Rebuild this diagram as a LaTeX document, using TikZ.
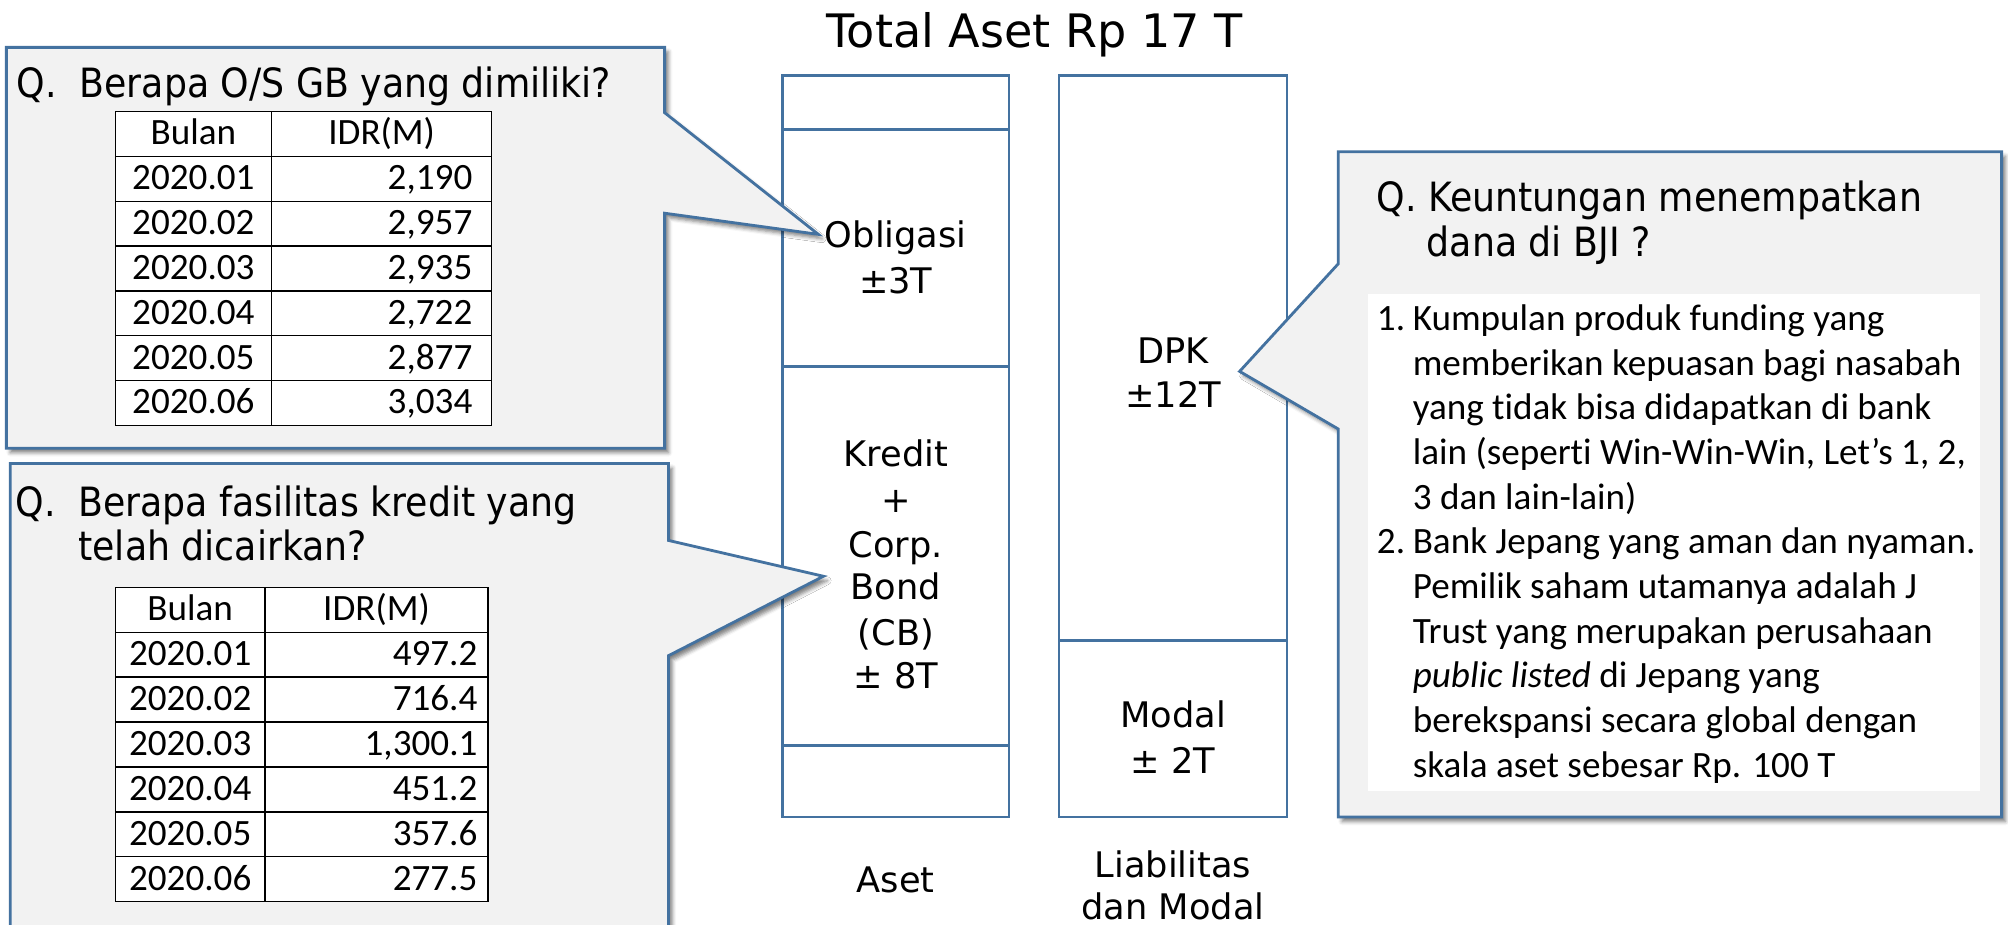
\documentclass[tikz,border=0pt]{standalone}
\usepackage{fontspec}
\setmainfont{DejaVu Sans}
\newfontfamily\calfont[Ligatures=NoCommon]{Carlito}
\newfontfamily\condfont{DejaVu Sans Condensed}
\usetikzlibrary{shadows.blur}
\definecolor{bord}{RGB}{68,114,160}
\definecolor{cfill}{RGB}{242,242,242}
\begin{document}
\begin{tikzpicture}[x=1pt,y=-1pt,
  col/.style={draw=bord,line width=2pt,fill=white},
  callout/.style={draw=bord,line width=2.2pt,fill=cfill,line join=miter,
    blur shadow={shadow xshift=3pt,shadow yshift=-3.5pt,shadow blur radius=3pt,shadow opacity=50}},
  ctext/.style={font=\fontsize{27.5}{34}\selectfont,inner sep=0pt,anchor=base},
  qtext/.style={font=\condfont\fontsize{31.5}{43}\selectfont,inner sep=0pt,anchor=base west},
  tline/.style={draw=black,line width=1.1pt},
  ttext/.style={font=\calfont\fontsize{29}{34}\selectfont,inner sep=0pt,anchor=base},
]
\clip (0,0) rectangle (1568,722);
\useasboundingbox (0,0) rectangle (1568,722);

% ---- title
\node[ctext,font=\fontsize{36}{40}\selectfont] (title) at (808,37) {Total Aset Rp 17 T};

% ---- Aset column
\draw[col] (611,59) rectangle (788,101);
\draw[col] (611,101) rectangle (788,286);
\draw[col] (611,286) rectangle (788,582);
\draw[col] (611,582) rectangle (788,638);
% ---- Liabilitas column
\draw[col] (827,59) rectangle (1005,500);
\draw[col] (827,500) rectangle (1005,638);

% ---- callouts
\coordinate (tipA) at (639,183);
\coordinate (tipB) at (643,450);
\coordinate (tipC) at (968,290);
\path[callout] (5,37) -- (519,37) -- (519,88) -- (tipA) -- (519,166.5) -- (519,350) -- (5,350) -- cycle;
\path[callout] (8,362) -- (522,362) -- (522,422) -- (tipB) -- (522,512) -- (522,760) -- (8,760) -- cycle;
\path[callout] (1045,118.5) -- (1563,118.5) -- (1563,638) -- (1045,638) -- (1045,335) -- (tipC) -- (1045,206) -- cycle;
\fill[white] (1068,229.5) rectangle (1546,617.5);

% ---- center texts
\node[ctext] (obl1) at (699.5,193) {Obligasi};
\node[ctext] (obl2) at (699.5,229) {±3T};
\node[ctext] (kr1) at (699.5,364) {Kredit};
\node[ctext] (kr2) at (699.5,400) {+};
\node[ctext] (kr3) at (699.5,435) {Corp.};
\node[ctext] (kr4) at (699.5,468) {Bond};
\node[ctext] (kr5) at (699.5,504) {(CB)};
\node[ctext] (kr6) at (699.5,538) {± 8T};
\node[ctext] (dpk1) at (916,284) {DPK};
\node[ctext] (dpk2) at (916,318) {±12T};
\node[ctext] (mod1) at (916,568) {Modal};
\node[ctext] (mod2) at (916,604) {± 2T};
\node[ctext] (aset) at (699.5,697) {Aset};
\node[ctext] (liab1) at (916,685) {Liabilitas};
\node[ctext] (liab2) at (916,718) {dan Modal};

% ---- headings
\node[qtext] (q1) at (13,76.5) {Q.};
\node[qtext] (q1t) at (62,76.5) {Berapa O/S GB yang dimiliki?};
\node[qtext] (q2) at (12,403.5) {Q.};
\node[qtext] (q2t) at (61,403.5) {Berapa fasilitas kredit yang};
\node[qtext] (q2u) at (61,437.5) {telah dicairkan?};
\node[qtext] (q3) at (1075,165.5) {Q. Keuntungan menempatkan};
\node[qtext] (q3u) at (1114,200.5) {dana di BJI ?};

% ---- table 1
\fill[white] (90,87.2) rectangle (384,332.2);
\foreach \k in {0,...,7} \draw[tline] (90,{87.2+\k*35}) -- (384,{87.2+\k*35});
\draw[tline] (90,87.2) -- (90,332.2);
\draw[tline] (212,87.2) -- (212,332.2);
\draw[tline] (384,87.2) -- (384,332.2);
\node[ttext] (t1h1) at (151,{87.2+17.5+8.5}) {Bulan};
\node[ttext] (t1h2) at (298,{87.2+17.5+8.5}) {IDR(M)};
\foreach \i/\m/\v in {1/2020.01/{2,190},2/2020.02/{2,957},3/2020.03/{2,935},4/2020.04/{2,722},5/2020.05/{2,877},6/2020.06/{3,034}}{
  \node[ttext] (t1m\i) at (151,{87.2+\i*35+17.5+8.5}) {\m};
  \node[ttext,anchor=base east] (t1v\i) at (369,{87.2+\i*35+17.5+8.5}) {\v};
}

% ---- table 2
\fill[white] (90,458.6) rectangle (381,704.1);
\foreach \k in {0,...,7} \draw[tline] (90,{458.6+\k*35.07}) -- (381,{458.6+\k*35.07});
\draw[tline] (90,458.6) -- (90,704.1);
\draw[tline] (207,458.6) -- (207,704.1);
\draw[tline] (381,458.6) -- (381,704.1);
\node[ttext] (t2h1) at (148.5,{458.6+17.5+8.8}) {Bulan};
\node[ttext] (t2h2) at (294,{458.6+17.5+8.8}) {IDR(M)};
\foreach \i/\m/\v in {1/2020.01/{497.2},2/2020.02/{716.4},3/2020.03/{1,300.1},4/2020.04/{451.2},5/2020.05/{357.6},6/2020.06/{277.5}}{
  \node[ttext] (t2m\i) at (148.5,{458.6+\i*35.07+17.5+8.8}) {\m};
  \node[ttext,anchor=base east] (t2v\i) at (373,{458.6+\i*35.07+17.5+8.8}) {\v};
}

% ---- list
\node[anchor=base west,inner sep=0pt,font=\calfont\fontsize{29}{34.9}\selectfont] (list) at (1075,258)
 {\begin{tabular}[t]{@{}l@{\hspace{6pt}}l@{}}
 1. & Kumpulan produk funding yang\\
    & memberikan kepuasan bagi nasabah\\
    & yang tidak bisa didapatkan di bank\\
    & lain (seperti Win-Win-Win, Let’s 1, 2,\\
    & 3 dan lain-lain)\\
 2. & Bank Jepang yang aman dan nyaman.\\
    & Pemilik saham utamanya adalah J\\
    & Trust yang merupakan perusahaan\\
    & \textit{public listed} di Jepang yang\\
    & berekspansi secara global dengan\\
    & skala aset sebesar Rp. 100 T
 \end{tabular}};
\end{tikzpicture}
\end{document}
